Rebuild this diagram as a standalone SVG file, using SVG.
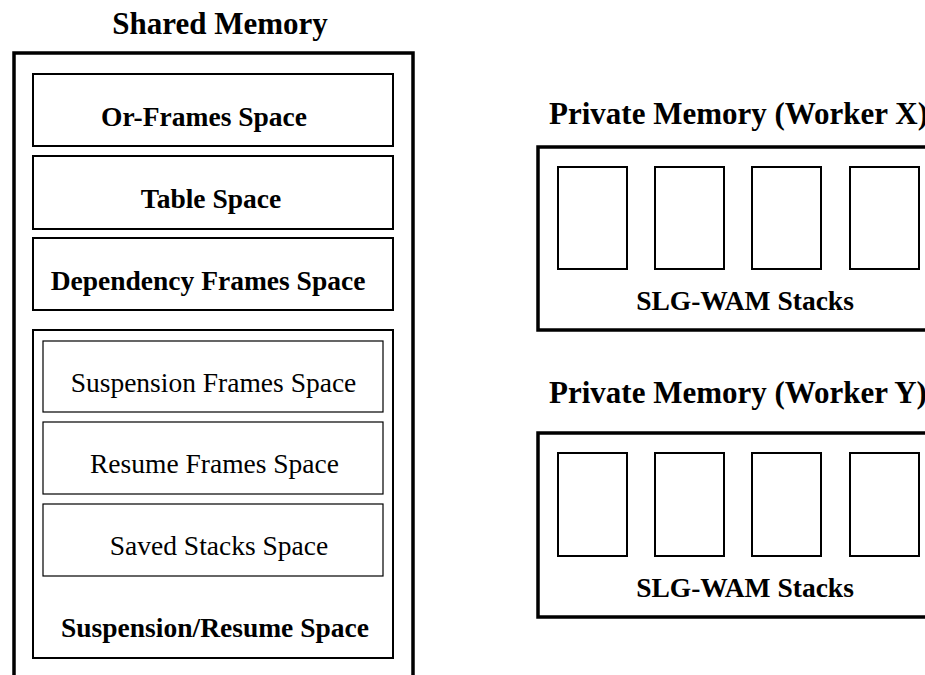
<svg xmlns="http://www.w3.org/2000/svg" width="925" height="675" viewBox="0 0 925 675">
<style>
text{font-family:"Liberation Serif","Times New Roman",serif;fill:#000}
.b{font-weight:bold}
.t{font-size:27.5px;text-anchor:middle}
.h{font-size:31px;font-weight:bold}
.outer{fill:none;stroke:#000;stroke-width:3.5}
.box{fill:none;stroke:#000;stroke-width:2}
.thin{fill:none;stroke:#000;stroke-width:1.2}
</style>
<rect width="925" height="675" fill="#fff"/>
<g id="shared-memory">
<text class="h" x="220" y="34" text-anchor="middle">Shared Memory</text>
<rect class="outer" x="14" y="53" width="399" height="640"/>
</g>
<g id="or-frames">
<rect class="box" x="33" y="74" width="360" height="72"/>
<text class="t b" x="204" y="126">Or-Frames Space</text>
</g>
<g id="table-space">
<rect class="box" x="33" y="156" width="360" height="73"/>
<text class="t b" x="211" y="208">Table Space</text>
</g>
<g id="dependency-frames">
<rect class="box" x="33" y="238" width="360" height="72"/>
<text class="t b" x="208" y="290">Dependency Frames Space</text>
</g>
<g id="suspension-resume">
<rect class="box" x="33" y="330" width="360" height="328"/>
<text class="t b" x="215" y="637">Suspension/Resume Space</text>
</g>
<g id="suspension-frames">
<rect class="thin" x="43" y="341" width="340" height="71"/>
<text class="t" x="213.5" y="392">Suspension Frames Space</text>
</g>
<g id="resume-frames">
<rect class="thin" x="43" y="422" width="340" height="72"/>
<text class="t" x="214.5" y="473">Resume Frames Space</text>
</g>
<g id="saved-stacks">
<rect class="thin" x="43" y="504" width="340" height="72"/>
<text class="t" x="219" y="555">Saved Stacks Space</text>
</g>
<g id="worker-x">
<text class="h" x="549" y="124">Private Memory (Worker X)</text>
<rect class="outer" x="538" y="147" width="420" height="183"/>
<rect class="box" x="558" y="167" width="69" height="102"/>
<rect class="box" x="655" y="167" width="69" height="102"/>
<rect class="box" x="752" y="167" width="69" height="102"/>
<rect class="box" x="850" y="167" width="69" height="102"/>
<text class="t b" x="745" y="310">SLG-WAM Stacks</text>
</g>
<g id="worker-y">
<text class="h" x="549" y="403">Private Memory (Worker Y)</text>
<rect class="outer" x="538" y="433" width="420" height="184"/>
<rect class="box" x="558" y="453" width="69" height="103"/>
<rect class="box" x="655" y="453" width="69" height="103"/>
<rect class="box" x="752" y="453" width="69" height="103"/>
<rect class="box" x="850" y="453" width="69" height="103"/>
<text class="t b" x="745" y="597">SLG-WAM Stacks</text>
</g>
<g id="connectors"/>
</svg>
